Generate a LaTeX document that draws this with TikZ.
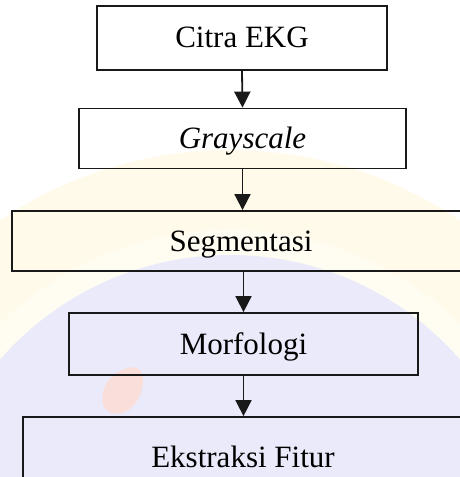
\documentclass[tikz,border=0pt]{standalone}
\usepackage{fontspec}
\setmainfont{Liberation Serif}
\usetikzlibrary{arrows.meta}
\definecolor{wmyellow}{RGB}{255,250,234}
\definecolor{wmblue}{RGB}{234,234,251}
\definecolor{wmred}{RGB}{250,222,218}
\begin{document}
\begin{tikzpicture}[x=1bp,y=-1bp,
  stepbox/.style={draw=black!90, line width=1.8bp, rectangle, inner sep=0pt,
    font=\fontsize{31bp}{36bp}\selectfont, text height=20bp, text depth=0bp},
  flow/.style={line width=1.8bp, draw=black!90,
    -{Triangle[length=16bp,width=16bp]}}]
\clip (0,0) rectangle (460,477);
\fill[white] (0,0) rectangle (460,477);
% faint watermark
\fill[wmyellow] (230,560) circle[radius=410];
\fill[white, opacity=0.4] (230,560) circle[radius=330];
\fill[wmblue] (230,560) circle[radius=305];
\fill[wmred] (118,372) .. controls (140,360) and (148,372) .. (140,395) .. controls (132,415) and (110,420) .. (103,405) .. controls (100,392) and (106,380) .. (118,372) -- cycle;
% boxes
\node[stepbox, minimum width=290bp, minimum height=64bp] (b1) at (242,38) {Citra EKG};
\node[stepbox, minimum width=327bp, minimum height=60bp] (b2) at (242.5,138.5) {\itshape Grayscale};
\node[stepbox, minimum width=458bp, minimum height=60bp] (b3) at (241,241) {Segmentasi};
\node[stepbox, minimum width=349bp, minimum height=62bp] (b4) at (243.5,344) {Morfologi};
\node[stepbox, minimum width=440bp, minimum height=80bp] (b5) at (243,457) {Ekstraksi Fitur};
% connectors
\draw[flow] (b1.south) -- (b2.north);
\draw[flow] (b2.south) -- (b3.north -| b2.south);
\draw[flow] (b3.south -| b4.north) -- (b4.north);
\draw[flow] (b4.south) -- (b5.north -| b4.south);
\end{tikzpicture}
\end{document}
